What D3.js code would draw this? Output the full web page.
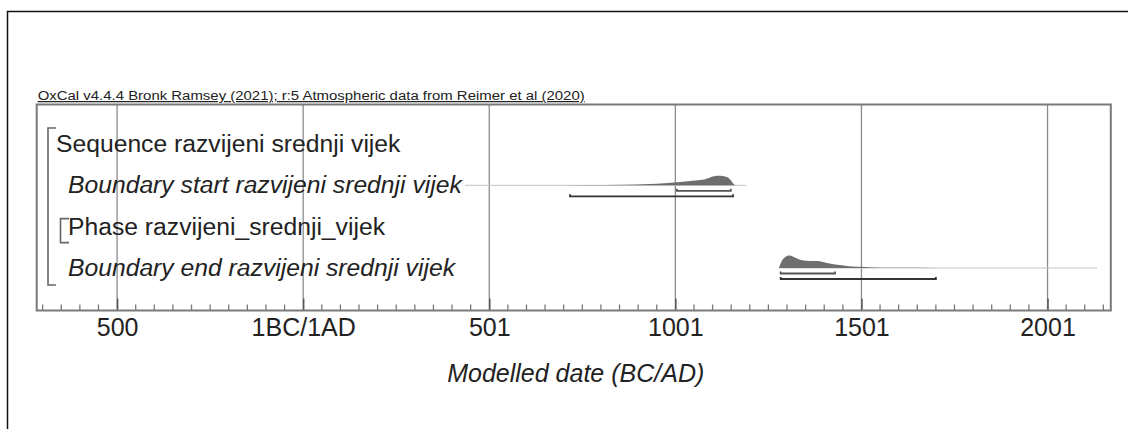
<!DOCTYPE html>
<html>
<head>
<meta charset="utf-8">
<script src="https://cdn.jsdelivr.net/npm/d3@7"></script>
<style>
  html, body { margin: 0; padding: 0; background: #fff; }
  svg { display: block; }
  text { font-family: "Liberation Sans", Arial, Helvetica, sans-serif; fill: #222; }
</style>
</head>
<body>
<svg id="chart" width="1128" height="429"></svg>
<script>
// OxCal-style multi-plot: model structure and posterior boundary densities
const titleText = "OxCal v4.4.4 Bronk Ramsey (2021); r:5 Atmospheric data from Reimer et al (2020)";
const axisTitle = "Modelled date (BC/AD)";

// Row labels, top to bottom
const rowLabels = [
  "Sequence razvijeni srednji vijek",
  "Boundary start razvijeni srednji vijek",
  "Phase razvijeni_srednji_vijek",
  "Boundary end razvijeni srednji vijek"
];
const rowItalic = [false, true, false, true];
const rowIndent = [0, 1, 1, 1];

// Axis ticks (astronomical year, label)
const tickYears = [-500, 0, 500, 1000, 1500, 2000];
const tickLabels = ["500", "1BC/1AD", "501", "1001", "1501", "2001"];

// Posterior density: Boundary start
const startYears   = [640, 760, 860, 930, 970, 1004, 1025, 1045, 1065, 1080, 1092, 1100, 1108, 1116, 1126, 1136, 1144, 1150, 1156, 1162];
const startDensity = [0.0, 0.02, 0.05, 0.10, 0.16, 0.24, 0.30, 0.36, 0.42, 0.48, 0.60, 0.70, 0.75, 0.76, 0.74, 0.68, 0.56, 0.36, 0.12, 0.0];
const startLine = [435, 1190];
const start68 = [1004, 1149];
const start95 = [717, 1155];

// Posterior density: Boundary end
const endYears   = [1278, 1284, 1292, 1300, 1308, 1318, 1330, 1345, 1360, 1375, 1388, 1400, 1415, 1435, 1460, 1490, 1530, 1600, 1700, 1800];
const endDensity = [0.0, 0.45, 0.80, 0.96, 1.0, 0.88, 0.72, 0.60, 0.56, 0.56, 0.54, 0.46, 0.36, 0.26, 0.17, 0.10, 0.05, 0.02, 0.008, 0.0];
const endLine = [1278, 2133];
const end68 = [1283, 1429];
const end95 = [1283, 1700];

const svg = d3.select("#chart");

// Outer page frame
svg.append("rect")
  .attr("x", 7.5).attr("y", 11.5).attr("width", 1200).attr("height", 600)
  .attr("fill", "none").attr("stroke", "#111").attr("stroke-width", 1.5);

const plot = { left: 36.7, right: 1110.8, top: 104.5, bottom: 310.5 };

const x = d3.scaleLinear().domain([-716, 2170]).range([plot.left, plot.right]);
const y = d3.scalePoint().domain(rowLabels).range([152, 276]);
const h = d3.scaleLinear().domain([0, 1]).range([0, 12.5]);

// Title
svg.append("text")
  .attr("x", plot.left + 1).attr("y", 100)
  .attr("font-size", 12.5)
  .attr("textLength", 547).attr("lengthAdjust", "spacingAndGlyphs")
  .attr("text-decoration", "underline")
  .attr("fill", "#333")
  .text(titleText);

// Vertical gridlines at major ticks
svg.append("g").selectAll("line").data(tickYears).join("line")
  .attr("x1", d => x(d)).attr("x2", d => x(d))
  .attr("y1", plot.top).attr("y2", plot.bottom)
  .attr("stroke", "#8c8c8c").attr("stroke-width", 1.3);

// Axis with major and minor ticks
const minor = d3.range(-700, 2171, 50).filter(v => !tickYears.includes(v));
svg.append("g").selectAll("line").data(minor).join("line")
  .attr("x1", d => x(d)).attr("x2", d => x(d))
  .attr("y1", plot.bottom - 6).attr("y2", plot.bottom)
  .attr("stroke", "#777").attr("stroke-width", 1.3);

const axis = d3.axisBottom(x)
  .tickValues(tickYears)
  .tickFormat((d, i) => tickLabels[i])
  .tickSizeInner(-12).tickSizeOuter(0).tickPadding(15);
const axisG = svg.append("g").attr("transform", `translate(0,${plot.bottom})`).call(axis);
axisG.select(".domain").remove();
axisG.selectAll(".tick line").attr("stroke", "#555").attr("stroke-width", 1.5);
axisG.selectAll(".tick text")
  .attr("font-family", "Liberation Sans, Arial, sans-serif")
  .attr("font-size", 25).attr("fill", "#222").attr("dy", "0.71em")
  .attr("y", 8);

// Plot box
svg.append("rect")
  .attr("x", plot.left).attr("y", plot.top)
  .attr("width", plot.right - plot.left).attr("height", plot.bottom - plot.top)
  .attr("fill", "none").attr("stroke", "#7a7a7a").attr("stroke-width", 2);

// Axis title
svg.append("text")
  .attr("x", (plot.left + plot.right) / 2 + 2).attr("y", 382)
  .attr("text-anchor", "middle").attr("font-size", 25).attr("font-style", "italic")
  .text(axisTitle);

// Row labels
svg.append("g").selectAll("text").data(rowLabels).join("text")
  .attr("x", (d, i) => rowIndent[i] ? 68 : 56)
  .attr("y", d => y(d))
  .attr("font-size", 24.7)
  .attr("font-style", (d, i) => rowItalic[i] ? "italic" : "normal")
  .text(d => d);

// Structure brackets
const bracket = (x0, x1, y0, y1) =>
  `M${x1},${y0}H${x0}V${y1}H${x1}`;
svg.append("path")
  .attr("d", bracket(48, 56, y(rowLabels[0]) - 24, y(rowLabels[3]) + 9))
  .attr("fill", "none").attr("stroke", "#666").attr("stroke-width", 1.6);
svg.append("path")
  .attr("d", bracket(60.5, 69, y(rowLabels[2]) - 16, y(rowLabels[2]) + 8))
  .attr("fill", "none").attr("stroke", "#666").attr("stroke-width", 1.6);

// Density, baseline and range bars for one boundary
function drawBoundary(row, years, dens, lineRange, r68, r95) {
  const base = y(row) - 8;
  const g = svg.append("g");
  g.append("line")
    .attr("x1", x(lineRange[0])).attr("x2", x(lineRange[1]))
    .attr("y1", base).attr("y2", base)
    .attr("stroke", "#c4c4c4").attr("stroke-width", 1);
  const area = d3.area()
    .x((d, i) => x(years[i]))
    .y0(base)
    .y1((d, i) => base - h(dens[i]))
    .curve(d3.curveMonotoneX);
  g.append("path").datum(dens).attr("d", area)
    .attr("fill", "#6e6e6e").attr("stroke", "none");
  const bar = (r, dy, col) => {
    g.append("path")
      .attr("d", `M${x(r[0])},${base + dy - 2}V${base + dy}H${x(r[1])}V${base + dy - 2}`)
      .attr("fill", "none").attr("stroke", col).attr("stroke-width", 1.8);
  };
  bar(r68, 5.5, "#555");
  bar(r95, 11, "#333");
}

drawBoundary(rowLabels[1], startYears, startDensity, startLine, start68, start95);
drawBoundary(rowLabels[3], endYears, endDensity, endLine, end68, end95);
</script>
</body>
</html>
